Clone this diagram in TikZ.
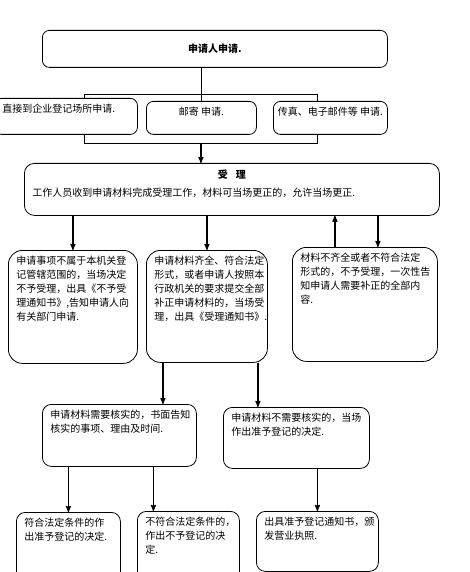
\documentclass[tikz,border=0pt]{standalone}
\usepackage{fontspec}
\setmainfont{Noto Sans CJK SC}
\usetikzlibrary{positioning}
\usetikzlibrary{arrows}
\tikzset{>=stealth'}
\tikzset{cell/.style={draw, line width=0.8pt, rounded corners=7pt, fill=white, anchor=north west, inner xsep=8pt, inner ysep=6pt, font=\fontsize{10}{14}\selectfont}}
\tikzset{bigcell/.style={cell, rounded corners=14pt}}
\tikzset{frame/.style={draw, line width=0.8pt, anchor=north west, inner sep=0pt}}
\tikzset{flow/.style={->, line width=1.2pt}}
\newcommand{\boxbody}[3]{\parbox[t][#2pt][t]{#1pt}{\raggedright #3}}

\begin{document}
\begin{tikzpicture}[x=1pt, y=-1pt]
\useasboundingbox (0,0) rectangle (470,572);

\node[cell, minimum width=345pt, minimum height=37pt] (apply) at (42,30) {\textbf{申请人申请.}};

\node[frame, minimum width=233pt, minimum height=49pt] (split) at (84,94) {};
\node[cell] (inperson) at (-6,98) {\boxbody{127}{24}{直接到企业登记场所申请.}};
\node[cell] (mail) at (146,101) {\boxbody{94}{21}{\makebox[94pt][c]{邮寄 申请.}}};
\node[cell] (fax) at (273,101) {\boxbody{98}{21}{\makebox[98pt][c]{传真、电子邮件等 申请.}}};

\node[cell, rounded corners=10pt] (accept) at (24,163) {\boxbody{399}{40}{\makebox[399pt][c]{\bfseries 受\hspace{0.8em}理}\\[4pt]
 工作人员收到申请材料完成受理工作，材料可当场更正的，允许当场更正.}};

\node[bigcell] (refuse) at (8,250) {\boxbody{113}{101}{申请事项不属于本机关登\\
 记管辖范围的，当场决定\\ 不予受理，出具《不予受\\ 理通知书》,告知申请人向\\ 有关部门申请.}};
\node[bigcell] (ok) at (146,250) {\boxbody{105}{100}{申请材料齐全、符合法定\\
 形式，或者申请人按照本\\ 行政机关的要求提交全部\\ 补正申请材料的，当场受\\ 理，出具《受理通知书》.}};
\node[bigcell] (fix) at (292,247) {\boxbody{129}{102}{材料不齐全或者不符合法定\\
 形式的，不予受理，一次性告\\ 知申请人需要补正的全部内\\ 容.}};

\node[cell, rounded corners=9pt] (verify) at (42,404) {\boxbody{138}{50}{申请材料需要核实的，书面告知\\ 核实的事项、理由及时间.}};
\node[cell, rounded corners=9pt] (direct) at (223,407) {\boxbody{130}{49}{申请材料不需要核实的，当场\\ 作出准予登记的决定.}};

\node[cell, rounded corners=9pt] (grant) at (16,512) {\boxbody{88}{68}{符合法定条件的作\\ 出准予登记的决定.}};
\node[cell, rounded corners=9pt] (deny) at (137,511) {\boxbody{86}{68}{不符合法定条件的，\\ 作出不予登记的决\\ 定.}};
\node[cell, rounded corners=9pt] (license) at (256,511) {\boxbody{106}{48}{出具准予登记通知书，颁\\ 发营业执照.}};

% connectors
\draw[line width=1pt] (apply.south -| mail.north) -- (mail.north);
\draw[flow] (split.south) -- (split.south |- accept.north);
\draw[flow] (refuse.north |- accept.south) -- (refuse.north);
\draw[flow] (ok.north |- accept.south) -- (ok.north);
\draw[flow] ([xshift=-30pt]fix.north) -- ([xshift=-30pt]fix.north |- accept.south);
\draw[flow] ([xshift=13pt]fix.north |- accept.south) -- ([xshift=13pt]fix.north);
\draw[flow] ([xshift=-44pt]ok.south) -- ([xshift=-44pt]ok.south |- verify.north);
\draw[flow] ([xshift=51pt]ok.south) -- ([xshift=51pt]ok.south |- direct.north);
\draw[flow] (grant.north |- verify.south) -- (grant.north);
\draw[flow] ([xshift=34pt]verify.south) -- ([xshift=34pt]verify.south |- deny.north);
\draw[flow] (license.north |- direct.south) -- (license.north);
\end{tikzpicture}
\end{document}
